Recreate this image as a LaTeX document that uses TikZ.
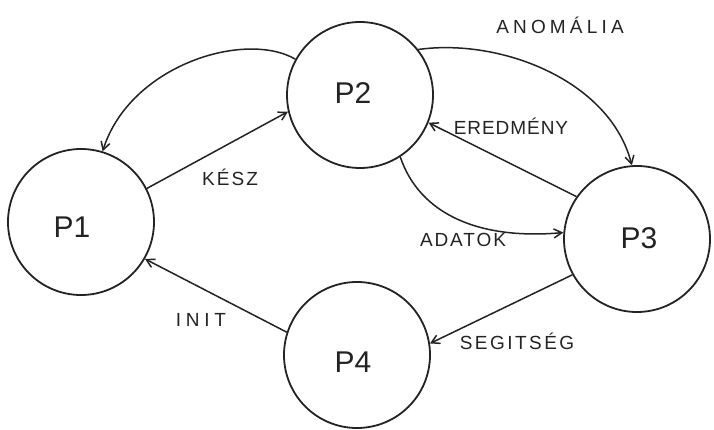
\documentclass[tikz,border=0pt]{standalone}
\usepackage{fontspec}
\setmainfont{Liberation Sans}
\usetikzlibrary{arrows.meta}
\definecolor{ink}{RGB}{35,35,35}
\begin{document}
\begin{tikzpicture}[x=1pt,y=-1pt,
  state/.style={circle,draw=ink,line width=1.8pt,minimum size=146pt,inner sep=0pt},
  pname/.style={text=ink,inner sep=0pt,font=\fontsize{30}{30}\selectfont},
  flow/.style={draw=ink,line width=1.5pt,-{Straight Barb[length=8pt,width=9pt]}},
  lbl/.style={font=\fontsize{19}{19}\selectfont\addfontfeature{LetterSpace=#1},
    text=ink,inner sep=0pt},
  lbl/.default=12]
  % page
  \fill[white] (0,0) rectangle (714,430);
  \useasboundingbox (0,0) rectangle (714,430);

  % processes
  \node[state] (p1) at (81,222) {};
  \node[state] (p2) at (360,95) {};
  \node[state] (p3) at (637,239) {};
  \node[state] (p4) at (357,355) {};
  \node[pname] (n1) at (72,227) {P1};
  \node[pname] (n2) at (353,93) {P2};
  \node[pname] (n3) at (639,238) {P3};
  \node[pname] (n4) at (353,362) {P4};

  % messages between the processes
  \draw[flow] (p2.151) .. controls (245,30) and (130,65) .. (p1.73);
  \draw[flow] (p1.27) -- (p2.193);
  \draw[flow] (p2.38) .. controls (500,38) and (610,80) .. (p3.94);
  \draw[flow] (p3.145) -- (p2.338);
  \draw[flow] (p2.303) .. controls (420,215) and (480,240) .. (p3.175);
  \draw[flow] (p3.209) -- (p4.9);
  \draw[flow] (p4.162) -- (p1.330);

  % message names
  \node[lbl=22] (lanom) at (560,25) {ANOMÁLIA};
  \node[lbl=11] (lkesz) at (230,177) {KÉSZ};
  \node[lbl=5]  (lered) at (511,126) {EREDMÉNY};
  \node[lbl=10] (ladat) at (463,240) {ADATOK};
  \node[lbl=13] (lsegi) at (517,341) {SEGITSÉG};
  \node[lbl=25] (linit) at (201,320) {INIT};
\end{tikzpicture}
\end{document}
